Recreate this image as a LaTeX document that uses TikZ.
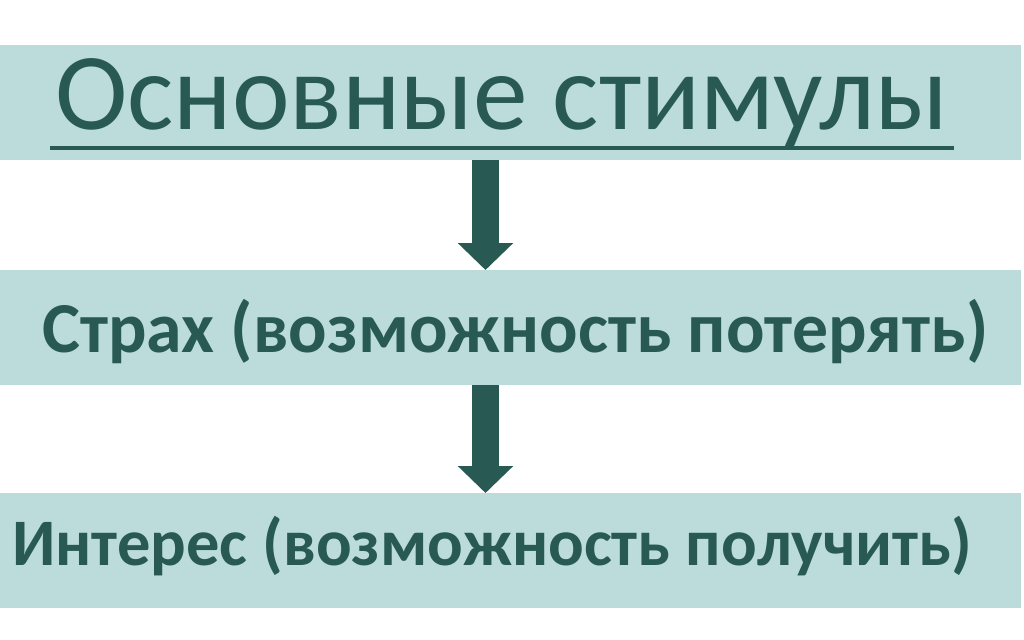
\documentclass[tikz,border=0pt]{standalone}
\usepackage{fontspec}
\setmainfont{Carlito}
\usetikzlibrary{arrows.meta}
\definecolor{bandcol}{HTML}{BBDCDA}
\definecolor{inkcol}{HTML}{285A53}
\tikzset{
  band/.style={fill=bandcol, draw=none, anchor=north west, inner sep=0pt, minimum width=1021pt},
  txt/.style={anchor=base west, inner sep=0pt, text=inkcol},
  flow/.style={draw=inkcol, line width=27pt, -{Triangle[width=54pt,length=27pt]}},
}
\begin{document}
\begin{tikzpicture}[x=1pt,y=-1pt]
\useasboundingbox[fill=white] (0,0) rectangle (1024,639);
\node[band, minimum height=115pt] (b1) at (0,45) {};
\node[band, minimum height=115pt] (b2) at (0,270) {};
\node[band, minimum height=115pt] (b3) at (0,493) {};
\node[txt] (t1) at (55,130) {\resizebox{893pt}{!}{\fontsize{113pt}{120pt}\selectfont Основные стимулы}};
\draw[inkcol, line width=4pt] (50,148) -- (954,148);
\node[txt] (t2) at (42,352) {\resizebox{946pt}{!}{\fontsize{73pt}{80pt}\selectfont\bfseries Страх (возможность потерять)}};
\node[txt] (t3) at (12,565) {\resizebox{960pt}{!}{\fontsize{70pt}{80pt}\selectfont\bfseries Интерес (возможность получить)}};
\draw[flow] (b1.south -| 485.5,0) -- (b2.north -| 485.5,0);
\draw[flow] (b2.south -| 485.5,0) -- (b3.north -| 485.5,0);
\end{tikzpicture}
\end{document}
